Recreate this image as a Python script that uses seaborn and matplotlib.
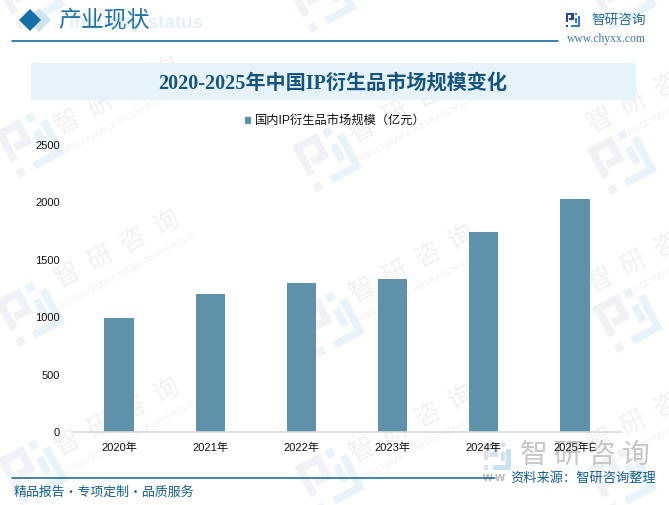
import matplotlib
matplotlib.use("Agg")
import matplotlib.pyplot as plt
import matplotlib.patches as mpatches
from matplotlib.transforms import Affine2D
import pandas as pd
import seaborn as sns

W, H = 669, 505

anos = ["2020年", "2021年", "2022年", "2023年", "2024年", "2025年E"]
valores = [993, 1202, 1298, 1333, 1742, 2030]
yticks = [0, 500, 1000, 1500, 2000, 2500]
titulo = "2020-2025年中国IP衍生品市场规模变化"
serie = "国内IP衍生品市场规模（亿元）"

COR_BARRA = "#5f92aa"
COR_AZUL = "#17608f"
SANS = ["Liberation Sans", "Noto Sans CJK SC"]
SERIF = ["Liberation Serif", "Noto Sans CJK SC"]

# watermark centres, the page is tiled with them
marcas_texto = [(117, 97), (117, 250), (117, 418), (412, 105), (412, 265), (412, 425), (650, 95), (650, 255), (650, 415)]
marcas_logo = [(30, 143), (30, 312), (33, 470), (327, 157), (330, 322), (330, 478), (622, 160), (628, 318),
               (622, 478), (30, -5), (322, -2), (622, -5)]

sns.set_theme(style="white")
plt.rcParams["font.family"] = SANS

fig = plt.figure(figsize=(W / 100, H / 100), dpi=100, facecolor="white")

# page layer in pixel coordinates, y down
bg = fig.add_axes([0, 0, 1, 1], zorder=0)
bg.set_xlim(0, W)
bg.set_ylim(H, 0)
bg.axis("off")


def logo(ax, cx, cy, s, ang, c1, c2, zorder=1):
    """Company logo built from a few rectangles, s = side in px."""
    tr = Affine2D().scale(s / 10).rotate_deg(ang).translate(cx, cy) + ax.transData
    pecas = [
        (-5, -5, 5.4, 1.5, c1), (-5, -5, 1.5, 6.6, c1), (-1.1, -5, 1.5, 5.2, c1),
        (-3, -1.3, 3.4, 1.5, c1), (-5, 3.4, 1.6, 1.6, c1),
        (1.5, -5, 1.6, 1.6, c2), (3.5, -2.6, 1.5, 6.1, c2),
        (-1.4, 3.5, 6.4, 1.5, c2), (1.5, -1.6, 1.5, 3.6, c2),
    ]
    for x, y, w, h, c in pecas:
        ax.add_patch(mpatches.Rectangle((x, y), w, h, color=c, lw=0, transform=tr, zorder=zorder))


for x, y in marcas_logo:
    logo(bg, x, y, 52, -28, "#eff2f6", "#e9f4fa")
for x, y in marcas_texto:
    bg.text(x, y, "智  研  咨  询", fontsize=18.5, color="#f1f1f1", rotation=28, ha="center", va="center",
            family="Noto Sans CJK SC", zorder=1, clip_on=True)
    bg.text(x + 10, y + 21, "INTELLIGENCE RESEARCH GROUP", fontsize=6.5, color="#f1f1f1", rotation=28,
            ha="center", va="center", zorder=1, clip_on=True)

# header
bg.add_patch(mpatches.RegularPolygon((39, 20), 4, radius=12, color="#cfe3ef", lw=0, zorder=2))
bg.add_patch(mpatches.RegularPolygon((30, 20), 4, radius=11, color="#166fa8", lw=0, zorder=3))
bg.text(136, 24, "Industry status", fontsize=13.5, color="#e3f0f8", weight="bold", ha="center", va="center", zorder=2)
bg.text(58, 21, "产业现状", fontsize=16.5, color="#1f72a6", ha="left", va="center", family="Noto Sans CJK SC", zorder=3)
bg.plot([12, 558], [40.5, 40.5], color="#17689c", lw=1.2, zorder=3)

logo(bg, 573, 20, 14, 0, "#27478f", "#2f7fc0", zorder=3)
bg.text(591, 20, "智研咨询", fontsize=9.8, color="#1f6a9c", ha="left", va="center", family="Noto Sans CJK SC", zorder=3)
bg.text(606, 39, "www.chyxx.com", fontsize=8.4, color="#3a7ba6", ha="center", va="center", family="Liberation Serif", zorder=3)

# title band
bg.add_patch(mpatches.Rectangle((31, 63), 605, 37, color="#e6f3fb", lw=0, zorder=2))
bg.text(333, 84, titulo, fontsize=14.5, color="#17557f", weight="bold", ha="center", va="center", family=SERIF, zorder=3)

# chart
df = pd.DataFrame({"ano": anos, "valor": valores})
ax = fig.add_axes([73.5 / W, 1 - 432 / H, 547 / W, 287 / H], zorder=1)
ax.patch.set_alpha(0)
sns.barplot(data=df, x="ano", y="valor", color=COR_BARRA, width=0.32, saturation=1, linewidth=0, ax=ax, label=serie)
ax.set_ylim(0, 2500)
ax.set_yticks(yticks)
ax.set_xlabel("")
ax.set_ylabel("")
ax.tick_params(axis="both", length=0, labelsize=8, labelcolor="#111111")
ax.tick_params(axis="x", pad=8)
ax.tick_params(axis="y", pad=10)
sns.despine(ax=ax, left=True)
ax.spines["bottom"].set_color("#d9d9d9")
ax.spines["bottom"].set_linewidth(1.2)
ax.legend(loc="center", bbox_to_anchor=(0.478, 1.08), frameon=False, handlelength=0.55,
          handleheight=0.55, handletextpad=0.25, labelcolor="#111111", prop={"family": SANS, "size": 8.8})

# footer, big stamp sits under the axis labels
fg = fig.add_axes([0, 0, 1, 1], zorder=0.5)
fg.set_xlim(0, W)
fg.set_ylim(H, 0)
fg.axis("off")
logo(fg, 497, 456, 27, 0, "#dde3ea", "#c9e2f2", zorder=1)
fg.text(585, 455, "智 研 咨 询", fontsize=20, color="#c6c6c6", ha="center", va="center", family="Noto Sans CJK SC", zorder=1)
fg.text(494, 478, "w w", fontsize=9, color="#b5b5b5", ha="center", va="center", weight="bold", zorder=1)
fg.plot([12, 495], [477.5, 477.5], color="#17608f", lw=1.1, zorder=2)
fg.text(14, 492, "精品报告·专项定制·品质服务", fontsize=9.3, color=COR_AZUL, ha="left", va="center", family="Noto Sans CJK SC", zorder=2)
fg.text(656, 478, "资料来源：智研咨询整理", fontsize=9.5, color=COR_AZUL, ha="right", va="center", family="Noto Sans CJK SC", zorder=2)

fig.savefig("out.png", dpi=100)
